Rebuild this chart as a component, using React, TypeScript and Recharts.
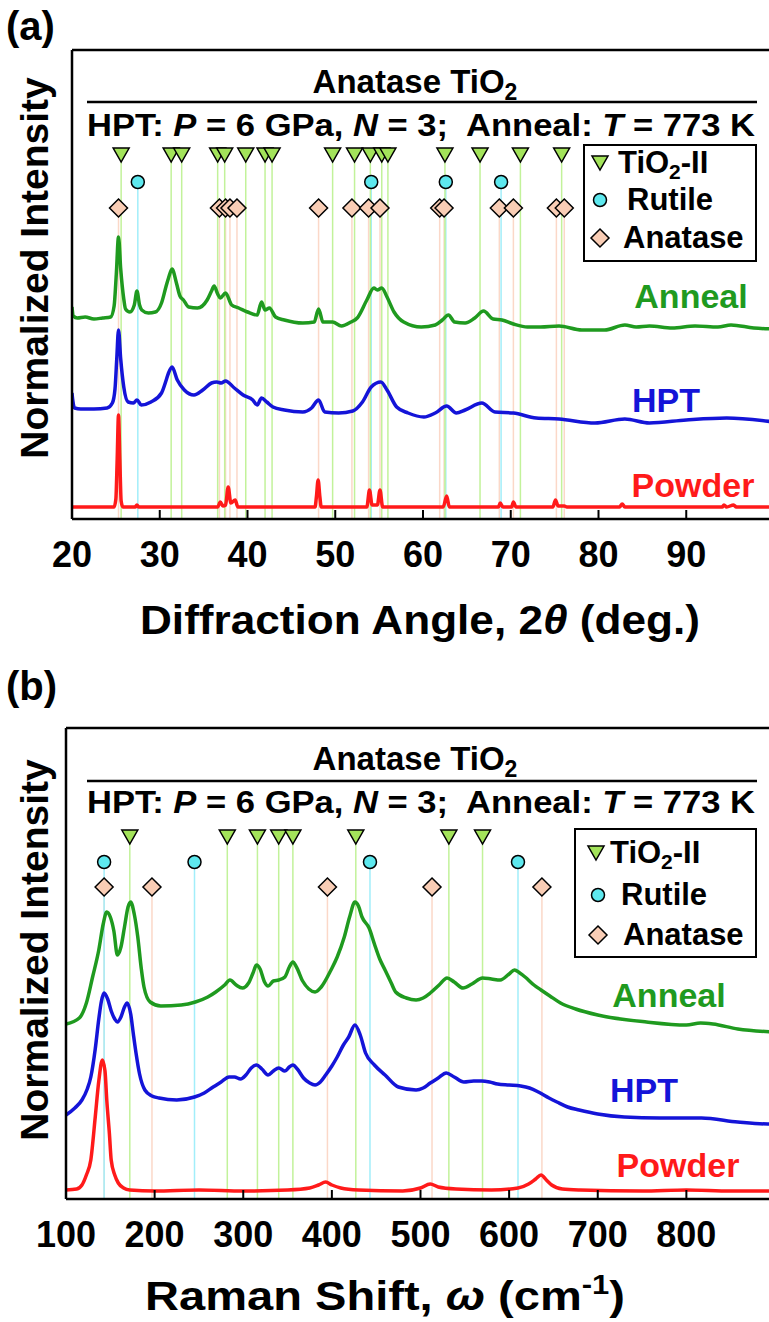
import React from 'react'
import { ComposedChart, Line, Scatter, XAxis, YAxis, ReferenceLine, Legend } from 'recharts'

type Pt = [number, number]

const FONT = '"Liberation Sans", Arial, Helvetica, sans-serif'
const GREEN = '#1f9a1f'
const BLUE = '#1414d8'
const RED = '#ff1a1a'
const TRI_FILL = '#a3e35a'
const CIRC_FILL = '#5ee8ee'
const DIA_FILL = '#f9cdb5'
const TRI_LINE = '#c2f29a'
const CIRC_LINE = '#a2eefa'
const DIA_LINE = '#fbd8c8'

// ---- (a) XRD: 2θ (deg) vs stacked normalized intensity ----
const xrdAnneal: Pt[] = [
  [20.0, 212], [20.15, 203], [20.6, 201], [21.5, 202], [22.5, 200], [23.5, 201], [24.4, 202],
  [24.8, 213], [25.05, 245], [25.3, 282], [25.55, 250], [25.9, 220], [26.1, 210], [26.6, 207],
  [27.1, 214], [27.4, 228], [27.7, 214], [27.95, 209], [28.7, 206], [29.5, 207], [30.2, 216],
  [30.7, 232], [31.0, 241], [31.4, 250], [31.9, 236], [32.3, 223], [32.7, 219], [33.3, 212],
  [34.3, 211], [35.4, 219], [35.9, 228], [36.2, 233], [36.6, 225], [36.9, 221], [37.5, 226],
  [38.2, 214], [39.0, 211], [40.0, 207], [41.1, 204], [41.6, 217], [42.0, 209], [42.5, 211],
  [43.2, 202], [44.2, 199], [46.3, 196], [47.6, 197], [48.1, 210], [48.6, 197], [49.7, 197],
  [50.7, 193], [51.8, 197], [52.5, 201], [53.6, 219], [54.4, 231], [54.8, 229], [55.3, 231],
  [55.9, 222], [56.7, 207], [57.8, 197], [59.8, 192], [61.4, 194], [62.2, 199], [62.9, 204],
  [63.6, 197], [64.8, 196], [65.9, 201], [66.9, 208], [68.0, 200], [69.0, 199], [70.3, 195],
  [71.9, 192], [73.4, 192], [75.5, 193], [78.1, 189], [80.7, 189], [83.0, 194], [84.3, 192],
  [85.8, 193], [88.4, 191], [91.0, 193], [93.6, 192], [95.1, 194], [97.7, 191], [100, 190],
]
const xrdHpt: Pt[] = [
  [20.0, 126], [20.1, 118], [20.3, 111], [21.0, 110], [22.5, 110], [24.0, 111], [24.6, 116],
  [24.9, 130], [25.1, 160], [25.3, 189], [25.55, 160], [25.9, 132], [26.4, 117], [27.0, 116],
  [27.4, 119], [27.9, 114], [29.0, 117], [30.2, 126], [30.7, 138], [31.0, 146], [31.4, 152],
  [32.0, 139], [32.8, 129], [33.9, 124], [34.9, 129], [35.9, 136], [36.5, 137], [37.0, 136],
  [37.5, 138], [38.5, 131], [39.5, 124], [40.6, 119], [41.1, 114], [41.6, 121], [42.2, 117],
  [42.9, 112], [44.2, 109], [46.3, 107], [47.3, 111], [48.1, 119], [48.8, 107], [50.4, 106],
  [52.0, 108], [53.1, 117], [54.1, 132], [55.2, 137], [55.9, 129], [57.0, 112], [58.3, 106],
  [60.1, 102], [61.4, 106], [62.7, 113], [63.8, 106], [64.8, 109], [66.7, 116], [68.2, 107],
  [70.3, 106], [72.9, 101], [75.5, 100], [79.6, 96], [83.0, 100], [85.8, 96], [90.0, 99],
  [94.6, 101], [100, 97],
]
const xrdPowder: Pt[] = [
  [20, 12], [24.8, 12], [25.0, 20], [25.15, 60], [25.3, 104], [25.45, 60], [25.6, 18], [25.8, 12],
  [27.2, 12], [27.4, 14], [27.6, 12], [36.6, 12], [36.9, 17], [37.2, 13], [37.5, 14], [37.8, 32],
  [38.1, 16], [38.6, 19], [38.9, 12], [47.7, 12], [47.85, 22], [48.05, 39], [48.25, 22], [48.4, 12],
  [53.6, 12], [53.9, 29], [54.2, 14], [54.8, 14], [55.1, 29], [55.4, 12], [62.3, 12], [62.7, 23],
  [63.0, 12], [68.6, 12], [68.8, 16], [69.1, 12], [70.1, 12], [70.3, 17], [70.6, 12], [74.8, 12],
  [75.1, 19], [75.4, 13], [76.1, 13], [76.4, 12], [82.4, 12], [82.7, 15], [83.0, 12], [94.1, 12],
  [94.3, 14], [94.6, 12], [95.4, 14], [95.7, 12], [100, 12],
]
const xrdTio2II = [25.6, 31.3, 32.5, 36.6, 37.4, 39.8, 42.0, 42.8, 49.7, 52.2, 54.0, 55.3, 56.0, 62.5, 66.5, 71.1, 75.8]
const xrdRutile = [27.5, 54.1, 62.6, 68.9]
const xrdAnatase = [25.3, 36.8, 37.5, 38.0, 38.8, 48.1, 51.9, 53.8, 55.1, 61.9, 62.4, 68.7, 70.3, 75.2, 76.1]
const xrdTicks = [20, 30, 40, 50, 60, 70, 80, 90]

// ---- (b) Raman: shift (cm-1) vs stacked normalized intensity ----
const ramanAnneal: Pt[] = [
  [100, 175], [115, 181], [123, 196], [130, 222], [137, 249], [142, 275], [146, 287], [150, 282],
  [154, 268], [158, 244], [162, 252], [166, 272], [170, 292], [173, 297], [177, 285], [181, 262],
  [185, 230], [188, 212], [195, 197], [207, 193], [230, 194], [246, 197], [260, 202], [269, 207],
  [279, 214], [285, 219], [292, 214], [299, 211], [306, 216], [311, 226], [315, 234], [319, 230],
  [324, 217], [328, 213], [334, 218], [340, 219], [347, 222], [352, 232], [356, 237], [360, 232],
  [367, 218], [374, 210], [381, 207], [388, 212], [399, 229], [406, 242], [414, 262], [420, 282],
  [426, 297], [430, 293], [434, 282], [442, 271], [448, 255], [454, 240], [460, 229], [467, 216],
  [472, 207], [484, 201], [495, 199], [503, 201], [511, 206], [521, 214], [530, 221], [538, 217],
  [548, 211], [558, 215], [570, 221], [580, 220], [590, 219], [600, 225], [606, 229], [612, 226],
  [618, 222], [628, 214], [636, 209], [646, 203], [658, 196], [675, 190], [700, 184], [755, 177],
  [800, 174], [816, 176], [830, 175], [858, 170], [900, 167],
]
const ramanHpt: Pt[] = [
  [100, 84], [110, 91], [118, 99], [124, 110], [128, 122], [133, 150], [137, 180], [140, 198],
  [143, 206], [147, 200], [151, 188], [155, 180], [158, 177], [162, 182], [166, 192], [169, 196],
  [173, 185], [176, 165], [179, 146], [183, 125], [189, 109], [197, 103], [205, 101], [225, 99],
  [245, 102], [256, 106], [266, 112], [275, 117], [284, 122], [290, 122], [297, 120], [303, 124],
  [309, 131], [315, 134], [321, 130], [328, 124], [334, 128], [340, 131], [347, 128], [352, 132],
  [356, 134], [361, 130], [368, 121], [375, 116], [381, 114], [387, 117], [393, 124], [400, 133],
  [406, 142], [413, 154], [419, 162], [426, 174], [432, 164], [438, 146], [448, 134], [460, 124],
  [475, 112], [495, 109], [503, 111], [511, 116], [520, 121], [529, 126], [538, 122], [549, 117],
  [560, 118], [569, 118], [578, 117], [587, 115], [600, 114], [613, 113], [623, 111], [633, 107],
  [645, 101], [654, 97], [666, 92], [679, 89], [700, 85], [730, 82], [770, 81], [817, 81],
  [858, 77], [892, 75], [900, 75],
]
const ramanPowder: Pt[] = [
  [100, 9], [112, 10], [118, 14], [123, 24], [128, 39], [133, 82], [137, 118], [141, 139],
  [144, 128], [146, 99], [149, 65], [151, 39], [155, 24], [159, 16], [165, 11], [172, 9],
  [200, 8], [250, 9], [300, 8], [350, 9], [375, 11], [385, 14], [393, 17], [400, 14], [410, 11],
  [430, 9], [480, 8], [500, 11], [511, 15], [520, 12], [540, 10], [580, 9], [610, 11], [622, 15],
  [630, 20], [636, 24], [642, 19], [648, 14], [660, 10], [680, 9], [750, 8], [800, 9], [850, 8],
  [900, 8],
]
const ramanTio2II = [172, 282, 316, 340, 356, 427, 532, 570]
const ramanRutile = [143, 245, 443, 610]
const ramanAnatase = [143, 197, 395, 513, 637]
const ramanTicks = [100, 200, 300, 400, 500, 600, 700, 800]

const toRows = (pts: Pt[]) => pts.map(([x, y]) => ({ x, y }))

function Tri({ cx, cy }: { cx: number; cy: number }) {
  return (
    <polygon
      points={`${cx - 8},${cy - 7} ${cx + 8},${cy - 7} ${cx},${cy + 7}`}
      fill={TRI_FILL}
      stroke="#000"
      strokeWidth={1.5}
    />
  )
}
function Circ({ cx, cy }: { cx: number; cy: number }) {
  return <circle cx={cx} cy={cy} r={6.5} fill={CIRC_FILL} stroke="#000" strokeWidth={1.5} />
}
function Dia({ cx, cy }: { cx: number; cy: number }) {
  return (
    <polygon
      points={`${cx},${cy - 9} ${cx + 9},${cy} ${cx},${cy + 9} ${cx - 9},${cy}`}
      fill={DIA_FILL}
      stroke="#000"
      strokeWidth={1.5}
    />
  )
}

// inward tick mark plus a big bold label under the axis
function XTick(props: any) {
  const { x, y, payload } = props
  return (
    <g>
      <line x1={x} x2={x} y1={y} y2={y - 9} stroke="#000" strokeWidth={2} />
      <text x={x} y={y + 48} textAnchor="middle" fontFamily={FONT} fontWeight="bold" fontSize={36} fill="#000">
        {payload.value}
      </text>
    </g>
  )
}

interface LegendPos {
  tri: [number, number]
  circ: [number, number]
  dia: [number, number]
  triText: number
  circText: number
  diaText: number
}

function PhaseLegend({ w, h, pos }: { w: number; h: number; pos: LegendPos }) {
  const label = (x: number, y: number, children: React.ReactNode) => (
    <div
      style={{
        position: 'absolute', left: x, top: y - 20, height: 40, lineHeight: '40px',
        fontFamily: FONT, fontWeight: 'bold', fontSize: 31, color: '#000', whiteSpace: 'nowrap',
      }}
    >
      {children}
    </div>
  )
  return (
    <div style={{ position: 'relative', width: w, height: h, border: '2px solid #000', background: '#fff', boxSizing: 'border-box' }}>
      <svg width={w} height={h} style={{ position: 'absolute', left: -2, top: -2 }}>
        <Tri cx={pos.tri[0]} cy={pos.tri[1]} />
        <Circ cx={pos.circ[0]} cy={pos.circ[1]} />
        <Dia cx={pos.dia[0]} cy={pos.dia[1]} />
      </svg>
      {label(pos.triText - 2, pos.tri[1] - 2, <>TiO<sub style={{ fontSize: 21, verticalAlign: -6, lineHeight: 0 }}>2</sub>-II</>)}
      {label(pos.circText - 2, pos.circ[1] - 2, 'Rutile')}
      {label(pos.diaText - 2, pos.dia[1] - 2, 'Anatase')}
    </div>
  )
}

interface PanelProps {
  height: number
  margin: { top: number; right: number; bottom: number; left: number }
  xDomain: [number, number]
  yMax: number
  ticks: number[]
  anneal: Pt[]
  hpt: Pt[]
  powder: Pt[]
  tio2: number[]
  rutile: number[]
  anatase: number[]
  rowY: [number, number, number]
  legendBox: { left: number; top: number; w: number; h: number; pos: LegendPos }
}

function Panel(p: PanelProps) {
  const [triY, circY, diaY] = p.rowY
  const guides = [
    ...p.anatase.map(x => ({ x, y: diaY, c: DIA_LINE })),
    ...p.rutile.map(x => ({ x, y: circY, c: CIRC_LINE })),
    ...p.tio2.map(x => ({ x, y: triY, c: TRI_LINE })),
  ]
  const frame = { stroke: '#000', strokeWidth: 2.5 }
  return (
    <ComposedChart width={780} height={p.height} margin={p.margin}>
      <XAxis
        dataKey="x" type="number" domain={p.xDomain} ticks={p.ticks} height={1}
        tickSize={0} tickMargin={0} tickLine={false} tick={<XTick />}
        axisLine={frame} allowDataOverflow interval={0}
      />
      <XAxis
        xAxisId="top" orientation="top" type="number" domain={p.xDomain} height={1}
        tick={false} tickLine={false} axisLine={frame}
      />
      <YAxis
        dataKey="y" type="number" domain={[0, p.yMax]} width={1}
        tick={false} tickLine={false} axisLine={frame} allowDataOverflow
      />
      {guides.map((g, i) => (
        <ReferenceLine key={i} segment={[{ x: g.x, y: 0 }, { x: g.x, y: g.y }]} stroke={g.c} strokeWidth={1.5} />
      ))}
      <Line data={toRows(p.powder)} dataKey="y" type="monotone" stroke={RED} strokeWidth={3.5} dot={false} isAnimationActive={false} />
      <Line data={toRows(p.hpt)} dataKey="y" type="monotone" stroke={BLUE} strokeWidth={3.5} dot={false} isAnimationActive={false} />
      <Line data={toRows(p.anneal)} dataKey="y" type="monotone" stroke={GREEN} strokeWidth={3.5} dot={false} isAnimationActive={false} />
      <Scatter data={p.anatase.map(x => ({ x, y: diaY }))} dataKey="y" isAnimationActive={false}
        shape={(s: any) => <Dia cx={s.cx} cy={s.cy} />} />
      <Scatter data={p.rutile.map(x => ({ x, y: circY }))} dataKey="y" isAnimationActive={false}
        shape={(s: any) => <Circ cx={s.cx} cy={s.cy} />} />
      <Scatter data={p.tio2.map(x => ({ x, y: triY }))} dataKey="y" isAnimationActive={false}
        shape={(s: any) => <Tri cx={s.cx} cy={s.cy} />} />
      <Legend
        layout="vertical" align="center" verticalAlign="middle"
        wrapperStyle={{ left: p.legendBox.left, top: p.legendBox.top, width: p.legendBox.w, height: p.legendBox.h }}
        content={() => <PhaseLegend w={p.legendBox.w} h={p.legendBox.h} pos={p.legendBox.pos} />}
      />
    </ComposedChart>
  )
}

const bold = { fontFamily: FONT, fontWeight: 'bold' as const }

function Headline({ titleY, ruleY, condY }: { titleY: number; ruleY: number; condY: number }) {
  return (
    <>
      <text x={415} y={titleY} textAnchor="middle" fontSize={33} {...bold}>
        Anatase TiO<tspan fontSize={23} dy={7}>2</tspan>
      </text>
      <line x1={87} x2={757} y1={ruleY} y2={ruleY} stroke="#000" strokeWidth={2.5} />
      <text x={87} y={condY} fontSize={31} {...bold} textLength={668} lengthAdjust="spacingAndGlyphs" style={{ whiteSpace: 'pre' }}>
        HPT: <tspan fontStyle="italic">P</tspan> = 6 GPa, <tspan fontStyle="italic">N</tspan> = 3;  Anneal: <tspan fontStyle="italic">T</tspan> = 773 K
      </text>
    </>
  )
}

function SeriesLabels({ a, h, p }: { a: [number, number]; h: [number, number]; p: [number, number] }) {
  return (
    <>
      <text x={a[0]} y={a[1]} textAnchor="middle" fontSize={34} fill={GREEN} {...bold}>Anneal</text>
      <text x={h[0]} y={h[1]} textAnchor="middle" fontSize={34} fill={BLUE} {...bold}>HPT</text>
      <text x={p[0]} y={p[1]} textAnchor="middle" fontSize={34} fill={RED} {...bold}>Powder</text>
    </>
  )
}

export default function App() {
  const overlay: React.CSSProperties = { position: 'absolute', left: 0, top: 0, pointerEvents: 'none' }
  return (
    <div style={{ position: 'absolute', left: 0, top: 0, width: 769, height: 1322, overflow: 'hidden', background: '#fff' }}>
      <div style={{ position: 'absolute', left: 0, top: 0, width: 780, height: 660 }}>
        <Panel
          height={660}
          margin={{ top: 49, right: 6, bottom: 140, left: 71 }}
          xDomain={[20, 100]}
          yMax={469}
          ticks={xrdTicks}
          anneal={xrdAnneal}
          hpt={xrdHpt}
          powder={xrdPowder}
          tio2={xrdTio2II}
          rutile={xrdRutile}
          anatase={xrdAnatase}
          rowY={[364, 337, 311]}
          legendBox={{
            left: 583, top: 144, w: 174, h: 118,
            pos: { tri: [17, 19], circ: [17, 56], dia: [17, 94], triText: 35, circText: 44, diaText: 40 },
          }}
        />
        <svg width={769} height={660} style={overlay}>
          <text x={6} y={40} fontSize={40} {...bold}>(a)</text>
          <Headline titleY={93} ruleY={102} condY={136} />
          <SeriesLabels a={[691, 308]} h={[666, 412]} p={[693, 497]} />
          <text x={420} y={634} textAnchor="middle" fontSize={40} {...bold} textLength={560} lengthAdjust="spacingAndGlyphs">
            Diffraction Angle, 2<tspan fontStyle="italic">θ</tspan> (deg.)
          </text>
          <text transform="translate(48,268) rotate(-90)" textAnchor="middle" fontSize={39} {...bold}>
            Normalized Intensity
          </text>
        </svg>
      </div>
      <div style={{ position: 'absolute', left: 0, top: 660, width: 780, height: 662 }}>
        <Panel
          height={662}
          margin={{ top: 67, right: 5, bottom: 122, left: 65 }}
          xDomain={[100, 900]}
          yMax={471}
          ticks={ramanTicks}
          anneal={ramanAnneal}
          hpt={ramanHpt}
          powder={ramanPowder}
          tio2={ramanTio2II}
          rutile={ramanRutile}
          anatase={ramanAnatase}
          rowY={[362, 337, 312]}
          legendBox={{
            left: 574, top: 168, w: 183, h: 130,
            pos: { tri: [22, 25], circ: [24, 67], dia: [24, 107], triText: 36, circText: 47, diaText: 49 },
          }}
        />
        <svg width={769} height={662} style={overlay}>
          <text x={6} y={40} fontSize={40} {...bold}>(b)</text>
          <Headline titleY={110} ruleY={121} condY={153} />
          <SeriesLabels a={[669, 347]} h={[644, 442]} p={[678, 517]} />
          <text x={385} y={650} textAnchor="middle" fontSize={41} {...bold} textLength={480} lengthAdjust="spacingAndGlyphs">
            Raman Shift, <tspan fontStyle="italic">ω</tspan> (cm<tspan fontSize={27} dy={-16}>-1</tspan><tspan dy={16}>)</tspan>
          </text>
          <text transform="translate(48,290) rotate(-90)" textAnchor="middle" fontSize={39} {...bold}>
            Normalized Intensity
          </text>
        </svg>
      </div>
    </div>
  )
}
